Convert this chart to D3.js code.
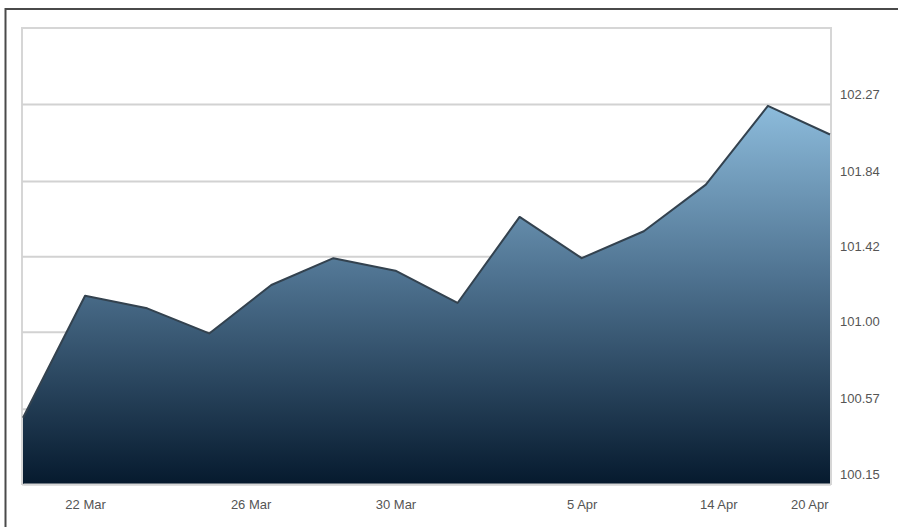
<!DOCTYPE html>
<html>
<head>
<meta charset="utf-8">
<script src="https://cdn.jsdelivr.net/npm/d3@7/dist/d3.min.js"></script>
<style>
html,body{margin:0;padding:0;background:#fff;}
svg{display:block;}
text{font-family:"Liberation Sans",Arial,sans-serif;}
</style>
</head>
<body>
<svg id="chart" width="898" height="527"></svg>
<script>
// Dates of each data point (estimated) and values
const dates = ["2010-03-19","2010-03-22","2010-03-23","2010-03-24","2010-03-27","2010-03-28","2010-03-30",
               "2010-03-31","2010-04-02","2010-04-05","2010-04-09","2010-04-13","2010-04-18","2010-04-21"];
const values = [100.52, 101.20, 101.13, 100.99, 101.26, 101.41, 101.34,
                101.16, 101.64, 101.41, 101.56, 101.82, 102.26, 102.10];
// Axis ticks
const xTickDates = ["2010-03-22","2010-03-26","2010-03-30","2010-04-05","2010-04-14","2010-04-20"];
const xTickLabels = ["22 Mar","26 Mar","30 Mar","5 Apr","14 Apr","20 Apr"];
const yTickValues = [100.15, 100.57, 101.00, 101.42, 101.84, 102.27];
const yTickLabels = ["100.15","100.57","101.00","101.42","101.84","102.27"];
const yDomain = [100.15, 102.694];

const parse = d3.timeParse("%Y-%m-%d");
const data = dates.map((d, i) => ({date: parse(d), value: values[i]}));

const svg = d3.select("#chart");
const pLeft = 22, pRight = 831, pTop = 28, pBottom = 484;

// piecewise (polylinear) time scale: data points evenly spaced
const xs = d3.scaleLinear().domain([0, data.length - 1]).range([pLeft + 1, pRight - 1]);
const x = d3.scaleTime()
  .domain(data.map(d => d.date))
  .range(data.map((d, i) => xs(i)));
const y = d3.scaleLinear().domain(yDomain).range([pBottom, pTop]);

// outer frame
svg.append("rect").attr("x", 5.5).attr("y", 9).attr("width", 1000).attr("height", 600)
  .attr("fill", "none").attr("stroke", "#4a4a4a").attr("stroke-width", 2);

// gradient
const defs = svg.append("defs");
const grad = defs.append("linearGradient").attr("id", "fillGrad")
  .attr("gradientUnits", "userSpaceOnUse")
  .attr("x1", 0).attr("x2", 0).attr("y1", y(102.27)).attr("y2", pBottom);
grad.append("stop").attr("offset", 0).attr("stop-color", "#8dbcdc");
grad.append("stop").attr("offset", 0.45).attr("stop-color", "#4f7391");
grad.append("stop").attr("offset", 1).attr("stop-color", "#061a2e");

// plot border
svg.append("rect").attr("x", pLeft).attr("y", pTop).attr("width", pRight - pLeft).attr("height", pBottom - pTop)
  .attr("fill", "#fff").attr("stroke", "#d6d6d6").attr("stroke-width", 2);

// horizontal gridlines
const yAxis = d3.axisRight(y).tickValues(yTickValues).tickSize(-(pRight - pLeft))
  .tickFormat((d, i) => yTickLabels[i]);
const gy = svg.append("g").attr("transform", `translate(${pRight},0)`).call(yAxis);
gy.select(".domain").remove();
gy.selectAll(".tick line").attr("stroke", "#d2d2d2").attr("stroke-width", 2);
gy.selectAll(".tick text")
  .attr("x", 9).attr("dy", "-0.45em")
  .attr("fill", "#555").attr("font-size", 13);

// area + line
const area = d3.area().x(d => x(d.date)).y0(pBottom).y1(d => y(d.value));
const line = d3.line().x(d => x(d.date)).y(d => y(d.value));
svg.append("path").datum(data).attr("d", area).attr("fill", "url(#fillGrad)");
svg.append("path").datum(data).attr("d", line).attr("fill", "none")
  .attr("stroke", "#33424f").attr("stroke-width", 2).attr("stroke-linejoin", "round");

// x axis labels
const xAxis = d3.axisBottom(x).tickValues(xTickDates.map(parse)).tickSize(0)
  .tickFormat((d, i) => xTickLabels[i]);
const gx = svg.append("g").attr("transform", `translate(0,${pBottom})`).call(xAxis);
gx.select(".domain").attr("stroke", "#d6d6d6").attr("stroke-width", 2);
gx.selectAll(".tick text").attr("y", 16).attr("dy", "0.71em")
  .attr("fill", "#555").attr("font-size", 13);
</script>
</body>
</html>
